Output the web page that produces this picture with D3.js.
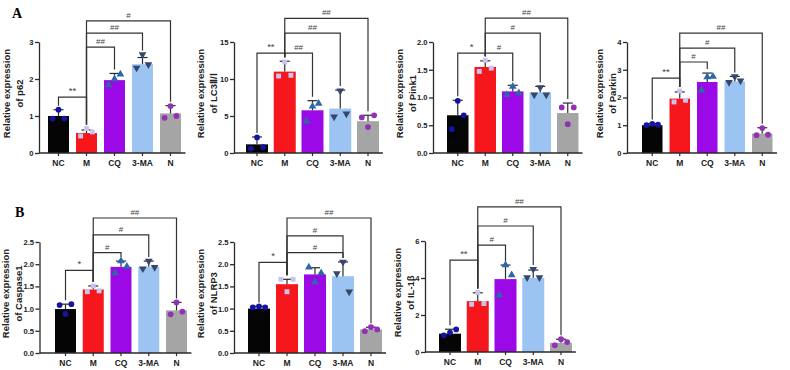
<!DOCTYPE html>
<html>
<head>
<meta charset="utf-8">
<script src="https://cdn.jsdelivr.net/npm/d3@7"></script>
<style>
  body { margin: 0; background: #fff; }
  text { font-family: "Liberation Sans", Arial, sans-serif; }
</style>
</head>
<body>
<svg id="chart" width="790" height="370"></svg>
<script>
// group names shared by every panel
const groups = ["NC", "M", "CQ", "3-MA", "N"];

// p62
const p62Mean = [1.0, 0.54, 1.97, 2.4, 1.07];
const p62Sd = [0.17, 0.08, 0.18, 0.18, 0.21];
const p62Points = [[0.93, 1.17, 0.93], [0.46, 0.66, 0.57], [1.84, 2.0, 2.13], [2.3, 2.66, 2.39], [0.95, 1.27, 1.0]];
const p62Sig = [[0, 1, 1.51, "**"], [1, 2, 2.86, "##"], [1, 3, 3.24, "##"], [1, 4, 3.57, "#"]];

// LC3 II / I
const lc3Mean = [1.17, 11.0, 5.77, 6.0, 4.3];
const lc3Sd = [1.0, 1.4, 1.3, 2.5, 0.8];
const lc3Points = [[0.6, 2.1, 0.8], [10.4, 12.3, 10.5], [4.3, 6.3, 6.7], [4.9, 8.4, 5.3], [4.8, 3.5, 5.1]];
const lc3Sig = [[0, 1, 13.5, "**"], [1, 2, 13.5, "##"], [1, 3, 16.2, "##"], [1, 4, 18.2, "##"]];

// Pink1
const pinkMean = [0.68, 1.55, 1.11, 1.09, 0.72];
const pinkSd = [0.27, 0.11, 0.11, 0.11, 0.18];
const pinkPoints = [[0.43, 0.94, 0.68], [1.47, 1.67, 1.53], [1.05, 1.2, 1.08], [1.05, 1.18, 1.05], [0.82, 0.52, 0.82]];
const pinkSig = [[0, 1, 1.8, "*"], [1, 2, 1.8, "#"], [1, 3, 2.16, "#"], [1, 4, 2.43, "##"]];

// Parkin
const parkinMean = [1.0, 1.96, 2.56, 2.58, 0.7];
const parkinSd = [0.06, 0.24, 0.32, 0.18, 0.21];
const parkinPoints = [[1.0, 1.05, 1.02], [1.84, 2.23, 1.9], [2.26, 2.74, 2.76], [2.55, 2.76, 2.6], [0.64, 0.9, 0.66]];
const parkinSig = [[0, 1, 2.7, "**"], [1, 2, 3.28, "#"], [1, 3, 3.78, "#"], [1, 4, 4.32, "##"]];

// Caspase1
const caspMean = [0.99, 1.43, 1.94, 1.94, 0.96];
const caspSd = [0.11, 0.08, 0.13, 0.13, 0.18];
const caspPoints = [[1.08, 0.88, 1.1], [1.38, 1.51, 1.4], [1.8, 2.07, 1.95], [1.9, 2.07, 1.93], [0.87, 1.14, 0.93]];
const caspSig = [[0, 1, 1.86, "*"], [1, 2, 2.26, "#"], [1, 3, 2.66, "#"], [1, 4, 3.04, "##"]];

// NLRP3
const nlrpMean = [1.0, 1.55, 1.77, 1.73, 0.53];
const nlrpSd = [0.05, 0.11, 0.15, 0.32, 0.05];
const nlrpPoints = [[1.03, 1.05, 1.03], [1.66, 1.38, 1.66], [1.93, 1.6, 1.8], [1.79, 2.05, 1.38], [0.49, 0.58, 0.53]];
const nlrpSig = [[0, 1, 2.04, "*"], [1, 3, 2.26, "#"], [1, 3, 2.64, "#"], [1, 4, 3.04, "##"]];

// IL-1β
const ilMean = [0.99, 2.75, 3.94, 4.01, 0.5];
const ilSd = [0.24, 0.45, 0.76, 0.42, 0.19];
const ilPoints = [[0.9, 1.05, 1.22], [2.58, 3.22, 2.62], [3.07, 4.7, 4.16], [4.03, 4.48, 4.03], [0.36, 0.69, 0.54]];
const ilSig = [[0, 1, 4.97, "**"], [1, 2, 5.78, "#"], [1, 3, 6.81, "#"], [1, 4, 7.84, "##"]];

// styling per group
const barColor = ["#050505", "#f5171b", "#9b0ae6", "#9cc4f2", "#a5a5a5"];
const dotColor = ["#1414a0", "#c9c4ee", "#2c67a8", "#37466c", "#9231b4"];
const dotShape = [d3.symbolCircle, d3.symbolSquare, d3.symbolTriangle, d3.symbolTriangle, d3.symbolCircle];
const jitter = [-0.28, 0, 0.28];
const ink = "#2a2a2a";

const svg = d3.select("#chart");
svg.append("rect").attr("width", 790).attr("height", 370).attr("fill", "#fff");

function drawPanel(p) {
  const g = svg.append("g");
  const step = p.step;
  const pin = 1 - p.bw / step;
  const r0 = p.barX0 - (pin / 2) * step;

  const x = d3.scaleBand().domain(groups).range([r0, r0 + step * 5])
    .paddingInner(pin).paddingOuter(pin / 2);
  const y = d3.scaleLinear().domain([0, p.yMax]).range([p.zeroY, p.topY]);
  const cx = (i) => x(groups[i]) + x.bandwidth() / 2;

  // bars
  g.selectAll("rect.bar").data(p.mean).enter().append("rect")
    .attr("class", "bar")
    .attr("x", (d, i) => x(groups[i]))
    .attr("y", (d) => y(d))
    .attr("width", x.bandwidth())
    .attr("height", (d) => p.zeroY - y(d))
    .attr("fill", (d, i) => barColor[i]);

  // error bars (upper only)
  p.mean.forEach(function (m, i) {
    const top = y(m + p.sd[i]);
    g.append("line").attr("x1", cx(i)).attr("x2", cx(i))
      .attr("y1", y(m)).attr("y2", top)
      .attr("stroke", ink).attr("stroke-width", 1.2);
    g.append("line").attr("x1", cx(i) - 5).attr("x2", cx(i) + 5)
      .attr("y1", top).attr("y2", top)
      .attr("stroke", ink).attr("stroke-width", 1.2);
  });

  // individual points
  p.points.forEach(function (vals, i) {
    vals.forEach(function (v, k) {
      const rot = i == 3 ? " rotate(180)" : "";
      g.append("path")
        .attr("d", d3.symbol().type(dotShape[i]).size(i == 1 ? 24 : 26)())
        .attr("transform", "translate(" + (cx(i) + jitter[k] * x.bandwidth()) + "," + y(v) + ")" + rot)
        .attr("fill", dotColor[i]);
    });
  });

  // y axis
  const yAxis = g.append("g")
    .attr("transform", "translate(" + p.axisX + ",0)")
    .call(d3.axisLeft(y).tickValues(p.ticks).tickSize(4).tickSizeOuter(0).tickFormat(d3.format(p.fmt)));
  yAxis.select(".domain").attr("stroke", ink).attr("stroke-width", 1.3);
  yAxis.selectAll(".tick line").attr("stroke", ink).attr("stroke-width", 1.3);
  yAxis.selectAll("text").attr("font-size", 7.6).attr("font-weight", "bold").attr("fill", "#222").attr("x", -5.5);

  // x axis
  const xAxis = g.append("g")
    .attr("transform", "translate(0," + p.zeroY + ")")
    .call(d3.axisBottom(x).tickSize(3).tickSizeOuter(0));
  xAxis.select(".domain").remove();
  xAxis.append("line").attr("x1", p.axisX).attr("x2", r0 + step * 5 + 1)
    .attr("stroke", ink).attr("stroke-width", 1.3);
  xAxis.selectAll(".tick line").attr("stroke", ink).attr("stroke-width", 1.2);
  xAxis.selectAll("text").attr("font-size", 8.5).attr("font-weight", "bold").attr("fill", "#222").attr("dy", "0.82em");

  // y title (two lines, baseline offsets from the axis)
  const midY = (p.zeroY + p.topY) / 2 - 4;
  p.title.forEach(function (t, k) {
    g.append("text")
      .attr("transform", "translate(" + (p.axisX + p.titleDx[k]) + "," + midY + ") rotate(-90)")
      .attr("text-anchor", "middle")
      .attr("font-size", 9.5).attr("font-weight", "bold").attr("fill", "#222")
      .text(t);
  });

  // significance brackets
  const peak = (i) => y(Math.max(p.mean[i] + p.sd[i], d3.max(p.points[i]))) - 4;
  p.sig.forEach(function (s) {
    const ly = y(s[2]);
    g.append("path")
      .attr("d", "M" + cx(s[0]) + "," + peak(s[0]) + "V" + ly + "H" + cx(s[1]) + "V" + peak(s[1]))
      .attr("fill", "none").attr("stroke", "#333").attr("stroke-width", 1.2);
    g.append("text")
      .attr("x", (cx(s[0]) + cx(s[1])) / 2).attr("y", ly - 3)
      .attr("text-anchor", "middle")
      .attr("font-size", s[3].indexOf("*") >= 0 ? 9.5 : 8)
      .attr("fill", "#444")
      .text(s[3]);
  });
}

drawPanel({ axisX: 39, zeroY: 153, topY: 42, barX0: 48, step: 28, bw: 21, yMax: 3, ticks: [0, 1, 2, 3], fmt: "d",
  title: ["Relative expression", "of p62"], titleDx: [-29, -16],
  mean: p62Mean, sd: p62Sd, points: p62Points, sig: p62Sig });
drawPanel({ axisX: 234, zeroY: 153, topY: 42, barX0: 246, step: 27.75, bw: 22, yMax: 15, ticks: [0, 5, 10, 15], fmt: "d",
  title: ["Relative expression", "of LC3\u2161/\u2160"], titleDx: [-30.5, -17.5],
  mean: lc3Mean, sd: lc3Sd, points: lc3Points, sig: lc3Sig });
drawPanel({ axisX: 433, zeroY: 153, topY: 42, barX0: 447, step: 27.5, bw: 21.5, yMax: 2, ticks: [0, 0.5, 1, 1.5, 2], fmt: ".1f",
  title: ["Relative expression", "of Pink1"], titleDx: [-30.5, -17.5],
  mean: pinkMean, sd: pinkSd, points: pinkPoints, sig: pinkSig });
drawPanel({ axisX: 627, zeroY: 153, topY: 42, barX0: 642, step: 27.5, bw: 20.5, yMax: 4, ticks: [0, 1, 2, 3, 4], fmt: "d",
  title: ["Relative expression", "of Parkin"], titleDx: [-24, -11],
  mean: parkinMean, sd: parkinSd, points: parkinPoints, sig: parkinSig });
drawPanel({ axisX: 39.5, zeroY: 353, topY: 242, barX0: 55, step: 27.75, bw: 21, yMax: 2.5, ticks: [0, 0.5, 1, 1.5, 2, 2.5], fmt: ".1f",
  title: ["Relative expression", "of Caspase1"], titleDx: [-30.5, -17.5],
  mean: caspMean, sd: caspSd, points: caspPoints, sig: caspSig });
drawPanel({ axisX: 234, zeroY: 353, topY: 242, barX0: 248, step: 28, bw: 22, yMax: 2.5, ticks: [0, 0.5, 1, 1.5, 2, 2.5], fmt: ".1f",
  title: ["Relative expression", "of NLRP3"], titleDx: [-30.5, -17.5],
  mean: nlrpMean, sd: nlrpSd, points: nlrpPoints, sig: nlrpSig });
drawPanel({ axisX: 425, zeroY: 352, topY: 241, barX0: 439, step: 27.75, bw: 22, yMax: 6, ticks: [0, 2, 4, 6], fmt: "d",
  title: ["Relative expression", "of IL-1\u03b2"], titleDx: [-24, -11],
  mean: ilMean, sd: ilSd, points: ilPoints, sig: ilSig });

// panel letters
svg.append("text").attr("x", 12).attr("y", 18)
  .style("font-family", "'Liberation Serif', 'Times New Roman', serif")
  .attr("font-size", 14).attr("font-weight", "bold").text("A");
svg.append("text").attr("x", 15).attr("y", 217)
  .style("font-family", "'Liberation Serif', 'Times New Roman', serif")
  .attr("font-size", 14).attr("font-weight", "bold").text("B");
</script>
</body>
</html>
